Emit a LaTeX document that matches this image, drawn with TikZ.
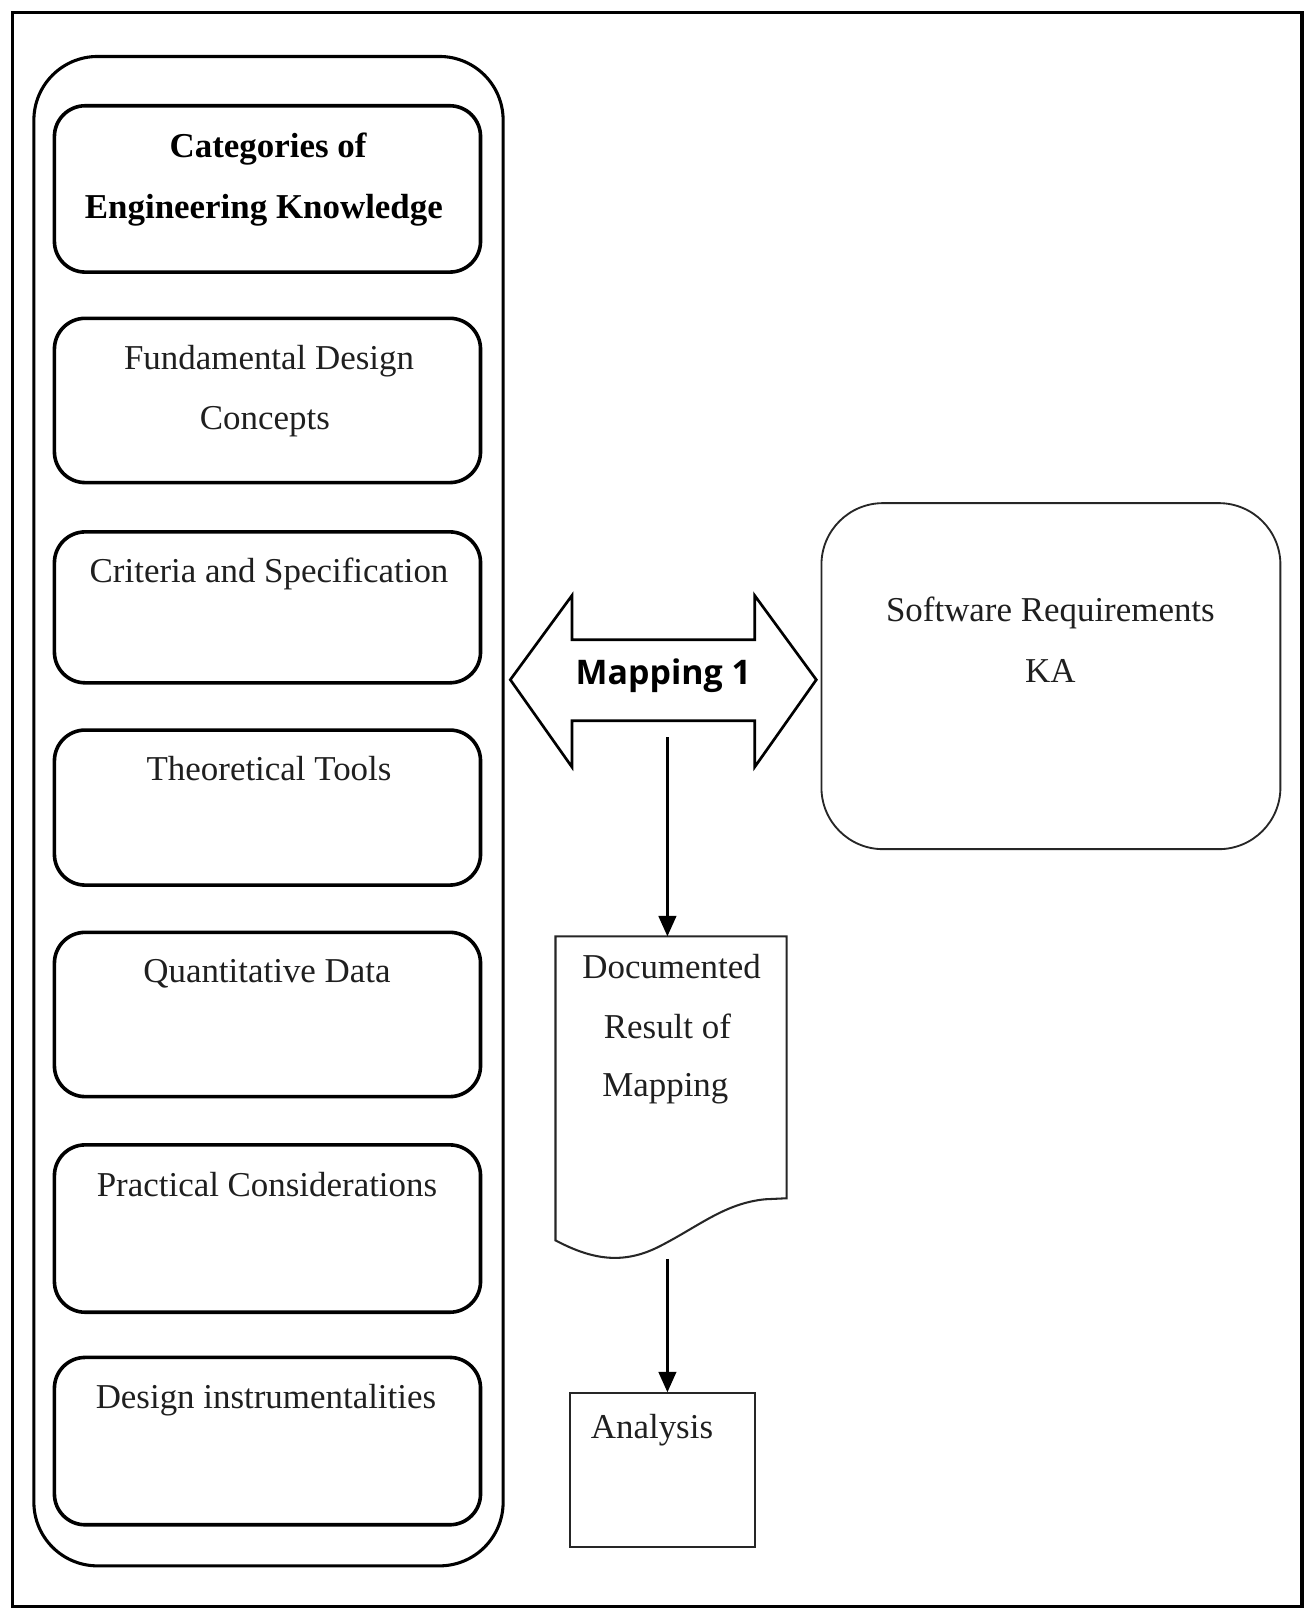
\documentclass[tikz,border=0pt]{standalone}
\usepackage{fontspec}
\setmainfont{Liberation Serif}
\newfontfamily\mapfont{Open Sans}
\usetikzlibrary{arrows.meta}
\begin{document}
\begin{tikzpicture}[x=1pt,y=-1pt,
  frame/.style={draw=black, line width=3pt, inner sep=0pt, outer sep=0pt},
  outerbox/.style={draw=black, line width=3pt, rounded corners=62pt, inner sep=0pt},
  kbox/.style={draw=black, line width=3.5pt, rounded corners=30pt, minimum width=415pt, inner sep=0pt},
  softbox/.style={draw=black!85, line width=1.8pt, rounded corners=60pt, inner sep=0pt},
  anabox/.style={draw=black!85, line width=2pt, inner sep=0pt},
  txt/.style={font=\fontsize{34}{40}\selectfont, text=black!88, inner sep=0pt, anchor=base},
  btxt/.style={font=\fontsize{34}{40}\selectfont\bfseries, text=black, inner sep=0pt, anchor=base},
  conn/.style={draw=black, line width=3pt, -{Triangle[length=20pt,width=17pt]}},
]
\useasboundingbox (0,0) rectangle (1276,1568);
\fill[white] (0,0) rectangle (1276,1568);

% outer frame
\node[frame, minimum width=1256pt, minimum height=1553pt] (frame) at (640,788.5) {};

% container
\node[outerbox, minimum width=457pt, minimum height=1470pt] (cont) at (261.5,790) {};

% knowledge boxes
\node[kbox, minimum height=162pt] (k1) at (260.5,184) {};
\node[kbox, minimum height=160pt] (k2) at (260.5,390) {};
\node[kbox, minimum height=147pt] (k3) at (260.5,591.5) {};
\node[kbox, minimum height=151pt] (k4) at (260.5,786.5) {};
\node[kbox, minimum height=160pt] (k5) at (260.5,988) {};
\node[kbox, minimum height=163pt] (k6) at (260.5,1196.5) {};
\node[kbox, minimum height=163pt] (k7) at (260.5,1403.5) {};

\node[btxt] (t1a) at (261,153) {Categories of};
\node[btxt] (t1b) at (257,213) {Engineering Knowledge};
\node[txt] (t2a) at (262,360) {Fundamental Design};
\node[txt] (t2b) at (258,418) {Concepts};
\node[txt] (t3) at (262,567) {Criteria and Specification};
\node[txt] (t4) at (262,760) {Theoretical Tools};
\node[txt] (t5) at (260,957) {Quantitative Data};
\node[txt] (t6) at (260,1165) {Practical Considerations};
\node[txt] (t7) at (259,1372) {Design instrumentalities};

% double arrow
\draw[black, line width=2.6pt, line join=miter]
  (497,662) -- (557,580) -- (557,623) -- (735,623) -- (735,580) -- (795,662)
  -- (735,747) -- (735,702) -- (557,702) -- (557,747) -- cycle;
\node[font=\mapfont\bfseries\fontsize{33}{40}\selectfont, text=black, inner sep=0pt, anchor=base] (map) at (646,667) {Mapping 1};
\coordinate (mapbot) at (650,718);

% software requirements box
\node[softbox, minimum width=447pt, minimum height=337pt] (soft) at (1023.5,658.5) {};
\node[txt] (s1) at (1023,605) {Software Requirements};
\node[txt] (s2) at (1023,665) {KA};

% document shape
\draw[black!85, line width=2pt, line join=miter]
  (541,912) -- (766,912) -- (766,1167) -- (745,1168)
  .. controls (705,1172) and (680,1195) .. (640,1215)
  .. controls (605,1232) and (575,1226) .. (541,1208) -- cycle;
\coordinate (doctop) at (650,912);
\coordinate (docbot) at (650,1226);
\node[txt] (d1) at (654,953) {Documented};
\node[txt] (d2) at (650,1011) {Result of};
\node[txt] (d3) at (648,1068) {Mapping};

% analysis box
\node[anabox, minimum width=180pt, minimum height=150pt] (ana) at (645,1432) {};
\node[txt] (a1) at (635,1401) {Analysis};

% connectors
\draw[conn] (mapbot) -- (doctop);
\draw[conn] (docbot) -- (docbot |- ana.north);
\end{tikzpicture}
\end{document}
